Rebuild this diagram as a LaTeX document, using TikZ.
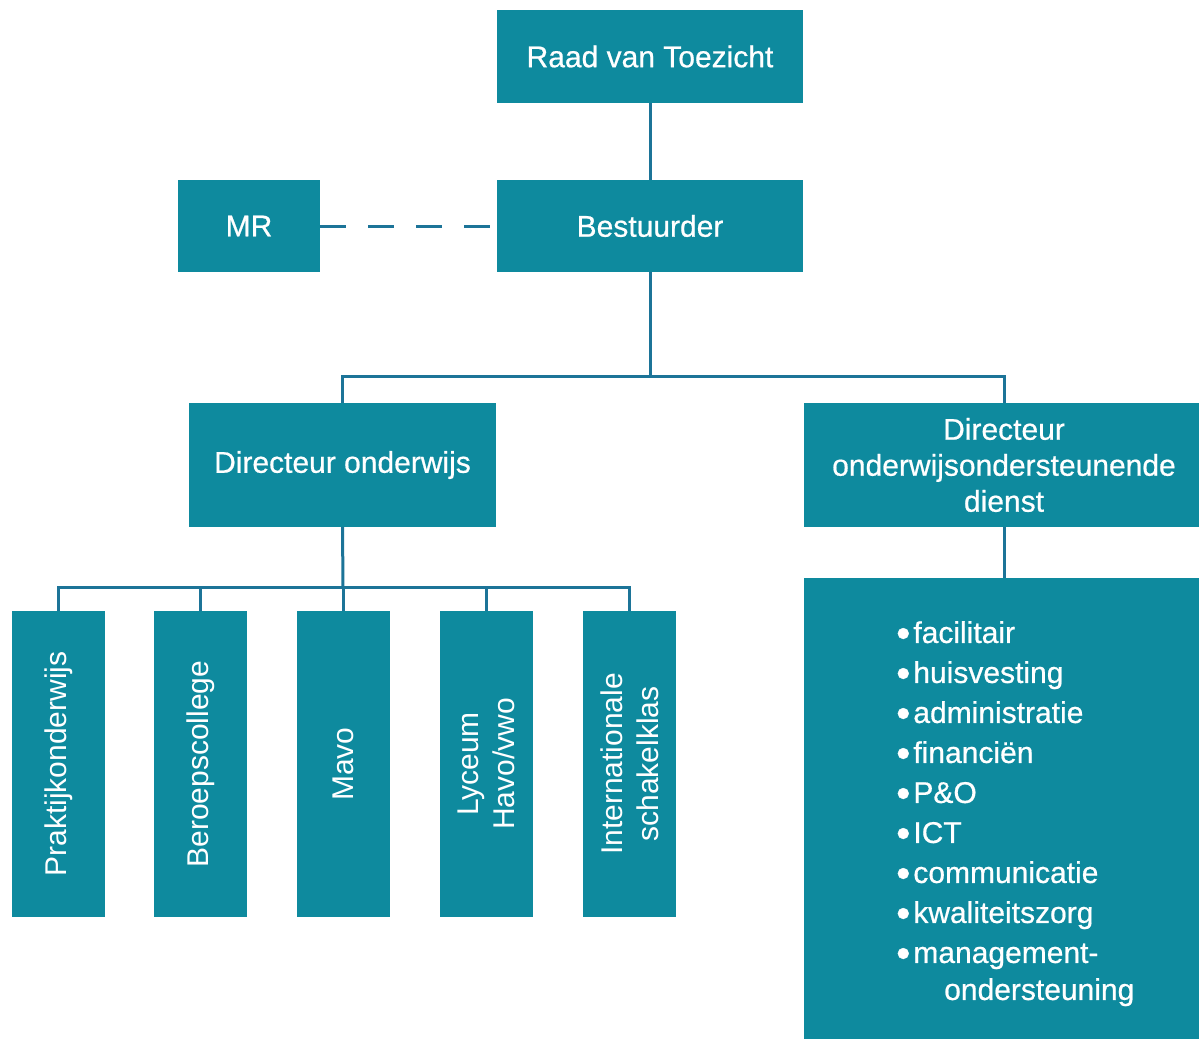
\documentclass[tikz,border=0pt]{standalone}
\usepackage{fontspec}
\setmainfont{Liberation Sans}
\newfontfamily\medfont[FakeBold=0.6]{Liberation Sans}
\definecolor{boxc}{RGB}{14,138,158}
\definecolor{linec}{RGB}{28,116,152}
\newcommand{\bul}{\raisebox{-4pt}{\scalebox{1.35}{•}}\hspace{3pt}}
\begin{document}
\begin{tikzpicture}[x=1pt,y=-1pt,
  box/.style={fill=boxc, draw=none, inner sep=0pt, outer sep=0pt, text=white,
    font=\medfont\fontsize{30}{36}\selectfont, align=center},
  vtext/.style={rotate=90, text=white, inner sep=0pt, font=\fontsize{30}{36}\selectfont, align=center},
  conn/.style={draw=linec, line width=3pt},
  dashconn/.style={draw=linec, line width=3pt, dash pattern=on 26pt off 22pt}]
\useasboundingbox (0,0) rectangle (1199,1039);
\fill[white] (0,0) rectangle (1199,1039);
% top boxes
\node[box, minimum width=306pt, minimum height=93pt] (raad) at (650,56.5) {Raad van Toezicht};
\node[box, minimum width=306pt, minimum height=92pt] (best) at (650,226) {Bestuurder};
\node[box, minimum width=142pt, minimum height=92pt] (mr) at (249,226) {MR};
% directors
\node[box, minimum width=307pt, minimum height=124pt] (do) at (342.5,465) {Directeur onderwijs};
\node[box, minimum width=400pt, minimum height=124pt] (dod) at (1004,465) {Directeur\\onderwijsondersteunende\\dienst};
% list box
\node[box, minimum width=400pt, minimum height=461pt] (list) at (1004,808.5) {};
\node[anchor=north west, text=white, inner sep=0pt, align=left,
  font=\medfont\fontsize{30}{40}\selectfont] (items) at (896,621)
  {\bul facilitair\\
   \bul huisvesting\\
   \bul administratie\\
   \bul financiën\\
   \bul P\&O\\
   \bul ICT\\
   \bul communicatie\\
   \bul kwaliteitszorg\\
   \bul management-\\[-3pt]
   \hspace*{48pt}ondersteuning};
% school boxes
\foreach \n/\x in {p1/58.5, p2/200.5, p3/343.5, p4/486.5, p5/629.5}{
  \node[box, minimum width=93pt, minimum height=306pt] (\n) at (\x,764) {};
}
\node[vtext] (t1) at (p1) {Praktijkonderwijs};
\node[vtext] (t2) at (p2) {Beroepscollege};
\node[vtext] (t3) at (p3) {Mavo};
\node[vtext] (t4) at (p4) {Lyceum\\Havo/vwo};
\node[vtext] (t5) at (p5) {Internationale\\schakelklas};
% connectors
\coordinate (bus) at (650,376);
\coordinate (bus2) at (343,587);
\draw[conn] (raad.south) -- (best.north);
\draw[dashconn] (mr.east) -- (best.west);
\draw[conn] (best.south) -- (bus);
\draw[conn] (do.north) |- (bus) -| (dod.north);
\draw[conn] (do.south) -- (bus2);
\draw[conn] (p1.north) |- (bus2) -| (p5.north);
\draw[conn] (p2.north) -- (p2.north |- bus2);
\draw[conn] (p3.north) -- (p3.north |- bus2);
\draw[conn] (p4.north) -- (p4.north |- bus2);
\draw[conn] (dod.south) -- (list.north);
\end{tikzpicture}
\end{document}
